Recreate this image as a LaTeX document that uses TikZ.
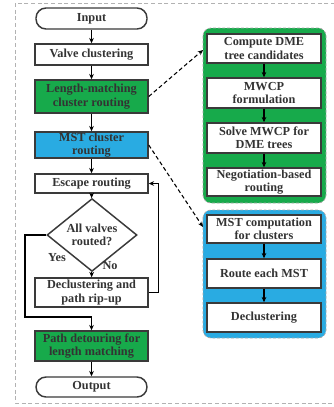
\documentclass[tikz,border=0pt]{standalone}
\usepackage{fontspec}
\setmainfont{Liberation Serif}
\usetikzlibrary{shapes.geometric,arrows.meta}
\definecolor{tgreen}{HTML}{17AA4B}
\definecolor{tblue}{HTML}{29ABE2}
\definecolor{txt}{HTML}{333333}
\definecolor{bord}{HTML}{3A3A3A}
\begin{document}
\begin{tikzpicture}[x=0.75pt,y=-0.75pt,
  font=\fontsize{9.2}{10}\selectfont\bfseries, text=txt,
  box/.style={draw=bord,line width=1.1pt,fill=white,align=center,inner sep=0pt,minimum width=113*0.75pt},
  rbox/.style={box,minimum width=114*0.75pt},
  term/.style={box,rounded corners=10*0.75pt,minimum width=111*0.75pt},
  arr/.style={draw=black,line width=0.8pt,-{Stealth[length=4pt,width=3.5pt]}},
  darr/.style={draw=black,line width=0.8pt,dash pattern=on 3pt off 2pt,-{Stealth[length=4pt,width=3.5pt]}},
  cont/.style={draw=gray!70,dash pattern=on 2pt off 1.5pt,line width=0.6pt,rounded corners=8*0.75pt}]
\useasboundingbox (0,0) rectangle (333,407);
\draw[gray!60,line width=0.5pt,dash pattern=on 3pt off 2pt] (15,3) rectangle (345,403);
% containers
\draw[cont,fill=tgreen] (203,28) rectangle (326,203);
\draw[cont,fill=tblue] (203,210) rectangle (326,338);
\coordinate (gw) at (203,50);
\coordinate (bw) at (203,227);
% left column
\node[term,minimum height=21*0.75pt] (in) at (91.5,18.5) {Input};
\node[box,minimum height=21*0.75pt] (vc) at (91.5,54.5) {Valve clustering};
\node[box,fill=tgreen,minimum height=33*0.75pt] (lm) at (91.5,96.5) {Length-matching\\cluster routing};
\node[box,fill=tblue,minimum height=26*0.75pt] (mst) at (91.5,145) {MST cluster\\routing};
\node[box,minimum height=19*0.75pt] (esc) at (91.5,183.5) {Escape routing};
\node[diamond,draw=bord,line width=1.1pt,fill=white,align=center,inner sep=0pt,minimum width=90*0.75pt,minimum height=52*0.75pt] (dia) at (92,235) {All valves\\routed?};
\node[box,minimum height=29*0.75pt] (dec) at (91.5,292.5) {Declustering and\\path rip-up};
\node[box,fill=tgreen,minimum height=30*0.75pt] (pd) at (91.5,346) {Path detouring for\\length matching};
\node[term,minimum height=20*0.75pt] (out) at (91.5,387) {Output};
\node (yes) at (57,258) {Yes};
\node (no) at (110,266) {No};
% right column
\node[rbox,minimum height=29*0.75pt] (c1) at (264,48.5) {Compute DME\\tree candidates};
\node[rbox,minimum height=30*0.75pt] (c2) at (264,93) {MWCP\\formulation};
\node[rbox,minimum height=30*0.75pt] (c3) at (264,138) {Solve MWCP for\\DME trees};
\node[rbox,minimum height=28*0.75pt] (c4) at (264,182) {Negotiation-based\\routing};
\node[rbox,minimum height=28*0.75pt] (b1) at (264,229) {MST computation\\for clusters};
\node[rbox,minimum height=29*0.75pt] (b2) at (264,273.5) {Route each MST};
\node[rbox,minimum height=29*0.75pt] (b3) at (264,317.5) {Declustering};
% arrows
\draw[arr] (in) -- (vc);
\draw[arr] (vc) -- (lm);
\draw[arr] (lm) -- (mst);
\draw[arr] (mst) -- (esc);
\draw[arr] (esc) -- (dia);
\draw[arr] (dia) -- (dec);
\draw[arr] (pd) -- (out);
\draw[arr] (dec.east) -- ++(10,0) |- (esc.east);
\coordinate (yl) at (25,317);
\draw[arr] (dia.west) -| (yl) -- (yl -| pd.north) -- (pd.north);
\draw[arr] (c1) -- (c2);
\draw[arr] (c2) -- (c3);
\draw[arr] (c3) -- (c4);
\draw[arr] (b1) -- (b2);
\draw[arr] (b2) -- (b3);
\draw[darr] (lm.east) -- (gw);
\draw[darr] (mst.east) -- (bw);
\end{tikzpicture}
\end{document}
